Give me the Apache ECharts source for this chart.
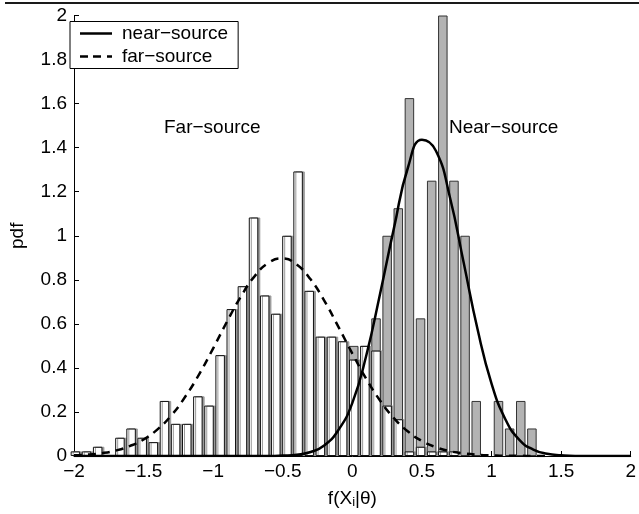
<!DOCTYPE html>
<html>
<head>
<meta charset="utf-8">
<script src="https://cdn.jsdelivr.net/npm/echarts@6/dist/echarts.min.js"></script>
<style>
    html, body { margin: 0; padding: 0; background: #fff; }
    #main { width: 639px; height: 514px; }
</style>
</head>
<body>
<div id="main"></div>
<script>
// histogram bin centres (bin width 0.08)
var binX = [-1.99, -1.91, -1.83, -1.75, -1.67, -1.59, -1.51, -1.43, -1.35, -1.27,
    -1.19, -1.11, -1.03, -0.95, -0.87, -0.79, -0.71, -0.63, -0.55, -0.47,
    -0.39, -0.31, -0.23, -0.15, -0.07, 0.01, 0.09, 0.17, 0.25, 0.33,
    0.41, 0.49, 0.57, 0.65, 0.73, 0.81, 0.89, 0.97, 1.05, 1.13, 1.21, 1.29];

// far-source histogram (white bars)
var farPdf = [0.021, 0.021, 0.042, 0, 0.083, 0.125, 0.083, 0.063, 0.25, 0.146,
    0.146, 0.271, 0.229, 0.458, 0.667, 0.771, 1.083, 0.729, 0.646, 1.0,
    1.292, 0.75, 0.542, 0.542, 0.521, 0.438, 0.5, 0.479, 0.229, 0.167,
    0.021, 0.042, 0.021, 0.021, 0.021, 0, 0, 0, 0, 0, 0, 0];

// near-source histogram (grey bars)
var nearPdf = [0, 0, 0, 0, 0, 0, 0, 0, 0, 0,
    0, 0, 0, 0, 0, 0, 0, 0, 0, 0,
    0, 0, 0, 0, 0, 0.5, 0.5, 0.625, 1.0, 1.125,
    1.625, 0.625, 1.25, 2.0, 1.25, 1.0, 0.25, 0, 0.25, 0.125, 0.25, 0.125];

// fitted curves, read every 0.1
var curveX = [-2.0, -1.9, -1.8, -1.7, -1.6, -1.5, -1.4, -1.3, -1.2, -1.1,
    -1.0, -0.9, -0.8, -0.7, -0.6, -0.5, -0.4, -0.3, -0.2, -0.1,
    0.0, 0.1, 0.2, 0.3, 0.4, 0.5, 0.6, 0.7, 0.8, 0.9,
    1.0, 1.1, 1.2, 1.3, 1.4, 1.5, 1.6, 1.7, 1.8, 1.9, 2.0];
var nearCurve = [0, 0, 0, 0, 0, 0, 0, 0, 0, 0,
    0, 0, 0, 0, 0, 0.002, 0.006, 0.018, 0.049, 0.118,
    0.241, 0.456, 0.739, 1.038, 1.311, 1.436, 1.386, 1.177, 0.877, 0.574,
    0.329, 0.166, 0.073, 0.029, 0.01, 0.003, 0, 0, 0, 0, 0];
var farCurve = [0.003, 0.007, 0.013, 0.025, 0.045, 0.075, 0.121, 0.185, 0.27, 0.372,
    0.489, 0.611, 0.725, 0.818, 0.878, 0.897, 0.869, 0.802, 0.703, 0.586,
    0.465, 0.35, 0.251, 0.171, 0.111, 0.068, 0.04, 0.022, 0.012, 0.006,
    0.003, 0.001, 0.001, 0, 0, null, null, null, null, null, null];

var font = '"Liberation Sans", Arial, Helvetica, sans-serif';
var fs = 19;

function pairs(xs, ys, dropZero) {
    var out = [];
    for (var i = 0; i < xs.length; i++) {
        if (ys[i] === null) continue;
        if (dropZero && ys[i] === 0) continue;
        out.push([xs[i], ys[i]]);
    }
    return out;
}

function minus(v) {
    return String(v).replace('-', '\u2212');
}

// legend samples: a plain stroke and a dashed one
var solidIcon = 'path://M0,0h32v2.5h-32z';
var dashIcon = 'path://M0,0h8v2.5h-8zM13,0h8v2.5h-8zM27,0h5v2.5h-5z';

var myChart = echarts.init(document.getElementById('main'));

var option = {
    animation: false,
    backgroundColor: '#fff',
    grid: { left: 63, right: 5, top: 15.5, bottom: 48.5 },
    legend: {
        data: [
            { name: 'near\u2212source', icon: solidIcon },
            { name: 'far\u2212source', icon: dashIcon }
        ],
        orient: 'vertical',
        left: 70,
        top: 21.5,
        itemWidth: 32,
        itemHeight: 2.5,
        itemGap: 3,
        padding: [2, 10, 2, 10],
        backgroundColor: '#fff',
        borderColor: '#000',
        borderWidth: 1,
        borderRadius: 0,
        textStyle: { fontSize: fs, fontFamily: font, color: '#000', lineHeight: 20, padding: [0, 0, 0, 5] }
    },
    xAxis: {
        type: 'value',
        min: -2,
        max: 2,
        interval: 0.5,
        axisLine: { onZero: false, lineStyle: { color: '#000', width: 1 } },
        axisTick: { inside: true, length: 5, lineStyle: { color: '#000' } },
        splitLine: { show: false },
        axisLabel: { color: '#000', fontSize: fs, fontFamily: font, margin: 6, formatter: minus },
        name: '{a|f(X}{b|i}{a||\u03b8)}',
        nameLocation: 'middle',
        nameGap: 33,
        nameTextStyle: {
            color: '#000', fontSize: fs, fontFamily: font,
            rich: {
                a: { fontSize: fs, fontFamily: font, color: '#000' },
                b: { fontSize: 13, fontFamily: font, color: '#000', verticalAlign: 'bottom', padding: [7, 0, 0, 0] }
            }
        }
    },
    yAxis: {
        type: 'value',
        min: 0,
        max: 2,
        interval: 0.2,
        axisLine: { onZero: false, lineStyle: { color: '#000', width: 1 } },
        axisTick: { inside: true, length: 5, lineStyle: { color: '#000' } },
        splitLine: { show: false },
        axisLabel: { color: '#000', fontSize: fs, fontFamily: font, margin: 7 },
        name: 'pdf',
        nameLocation: 'middle',
        nameGap: 47,
        nameRotate: 90,
        nameTextStyle: { color: '#000', fontSize: fs, fontFamily: font }
    },
    graphic: [
        { type: 'rect', left: 5, top: 2, shape: { width: 634, height: 2 }, style: { fill: '#1a1a1a' } },
        { type: 'text', left: 164, top: 118, style: { text: 'Far\u2212source', font: fs + 'px ' + font, fill: '#000' } },
        { type: 'text', left: 449, top: 118, style: { text: 'Near\u2212source', font: fs + 'px ' + font, fill: '#000' } }
    ],
    series: [
        {
            type: 'bar',
            name: 'near bars',
            data: pairs(binX, nearPdf, true),
            barWidth: 9.5,
            barGap: '-100%',
            itemStyle: { color: '#b3b3b3', borderColor: '#333', borderWidth: 1 }
        },
        {
            type: 'bar',
            name: 'far bars',
            data: pairs(binX, farPdf, true),
            barWidth: 9.5,
            barGap: '-100%',
            itemStyle: { color: '#fff', borderColor: '#111', borderWidth: 1, shadowColor: '#9a9a9a', shadowOffsetX: 2, shadowBlur: 0 }
        },
        {
            type: 'line',
            name: 'near\u2212source',
            data: pairs(curveX, nearCurve, false),
            smooth: true,
            symbol: 'none',
            z: 5,
            itemStyle: { color: '#000' },
            lineStyle: { color: '#000', width: 2.5 }
        },
        {
            type: 'line',
            name: 'far\u2212source',
            data: pairs(curveX, farCurve, false),
            smooth: true,
            symbol: 'none',
            z: 5,
            itemStyle: { color: '#000' },
            lineStyle: { color: '#000', width: 2.5, type: [8, 6] }
        }
    ]
};

myChart.setOption(option);
</script>
</body>
</html>
